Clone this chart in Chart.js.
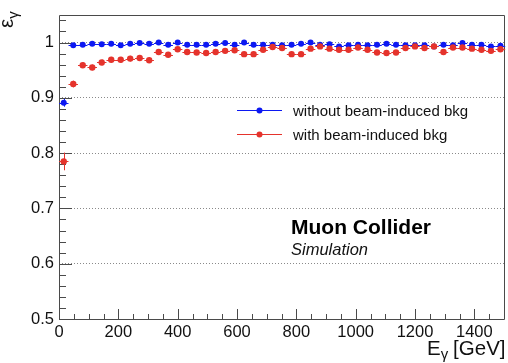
<!DOCTYPE html>
<html>
<head>
<meta charset="utf-8">
<script src="https://cdn.jsdelivr.net/npm/chart.js@4.4.1/dist/chart.umd.min.js"></script>
<style>
  html, body { margin: 0; padding: 0; background: #ffffff; }
  canvas { display: block; }
</style>
</head>
<body>
<canvas id="eff" width="508" height="363"></canvas>
<script>
// Photon energy bin centres [GeV]; each bin is 32 GeV wide
const energyBins = [16, 48, 80, 112, 144, 176, 208, 240, 272, 304,
                    336, 368, 400, 432, 464, 496, 528, 560, 592, 624,
                    656, 688, 720, 752, 784, 816, 848, 880, 912, 944,
                    976, 1008, 1040, 1072, 1104, 1136, 1168, 1200, 1232, 1264,
                    1296, 1328, 1360, 1392, 1424, 1456, 1488];
const binHalfWidth = 16;

// Reconstruction efficiency without beam-induced background
const effNoBkg = [0.891, 0.995, 0.996, 0.998, 0.997, 0.998, 0.995, 0.998, 0.999, 0.998,
                  1.000, 0.996, 1.000, 0.996, 0.996, 0.996, 0.998, 0.999, 0.996, 1.000,
                  0.996, 0.996, 0.996, 0.995, 0.996, 0.998, 1.000, 0.996, 0.997, 0.993,
                  0.995, 0.996, 0.995, 0.996, 0.998, 0.996, 0.995, 0.995, 0.995, 0.993,
                  0.996, 0.995, 0.999, 0.996, 0.996, 0.993, 0.994];
const errNoBkg = [0.007, 0.002, 0.002, 0.002, 0.002, 0.002, 0.002, 0.002, 0.002, 0.002,
                  0.002, 0.002, 0.002, 0.002, 0.002, 0.002, 0.002, 0.002, 0.002, 0.002,
                  0.002, 0.002, 0.002, 0.002, 0.002, 0.002, 0.002, 0.002, 0.002, 0.002,
                  0.002, 0.002, 0.002, 0.002, 0.002, 0.002, 0.002, 0.002, 0.002, 0.002,
                  0.002, 0.002, 0.002, 0.002, 0.002, 0.002, 0.002];

// Reconstruction efficiency with beam-induced background overlaid
const effBkg = [0.785, 0.925, 0.959, 0.955, 0.964, 0.969, 0.969, 0.971, 0.972, 0.968,
                0.983, 0.978, 0.988, 0.983, 0.982, 0.981, 0.983, 0.985, 0.986, 0.979,
                0.979, 0.987, 0.992, 0.990, 0.979, 0.979, 0.989, 0.993, 0.989, 0.987,
                0.987, 0.991, 0.987, 0.982, 0.981, 0.982, 0.990, 0.993, 0.990, 0.993,
                0.983, 0.991, 0.991, 0.989, 0.987, 0.985, 0.988];
const errBkg = [0.016, 0.006, 0.005, 0.005, 0.005, 0.005, 0.005, 0.005, 0.005, 0.005,
                0.004, 0.004, 0.004, 0.004, 0.004, 0.004, 0.004, 0.004, 0.004, 0.004,
                0.004, 0.004, 0.004, 0.004, 0.004, 0.004, 0.004, 0.004, 0.004, 0.004,
                0.004, 0.004, 0.004, 0.004, 0.004, 0.004, 0.004, 0.004, 0.004, 0.004,
                0.004, 0.004, 0.004, 0.004, 0.004, 0.004, 0.004];

// Axis tick labels
const xTickValues = [0, 200, 400, 600, 800, 1000, 1200, 1400];
const yTickValues = [0.5, 0.6, 0.7, 0.8, 0.9, 1.0];

const labelNoBkg = 'without beam-induced bkg';
const labelBkg = 'with beam-induced bkg';

const FONT = "'Liberation Sans', Arial, Helvetica, sans-serif";
const TEXT = '#111111';
const AXIS = '#4a4a4a';
const BLUE = '#0c18f2';
const RED = '#e5332c';

function points(ys) {
  return energyBins.map((e, i) => ({ x: e, y: ys[i] }));
}

// ROOT-style error crosses drawn under each dataset's markers
const errorBars = {
  id: 'errorBars',
  beforeDatasetDraw(chart, args) {
    const ds = chart.data.datasets[args.index];
    const xs = chart.scales.x, ys = chart.scales.y;
    const ctx = chart.ctx;
    ctx.save();
    ctx.strokeStyle = ds.borderColor;
    ctx.lineWidth = 1;
    ds.data.forEach((p, i) => {
      const px = xs.getPixelForValue(p.x);
      const py = ys.getPixelForValue(p.y);
      const xl = xs.getPixelForValue(p.x - binHalfWidth);
      const xr = xs.getPixelForValue(p.x + binHalfWidth);
      const yt = ys.getPixelForValue(p.y + ds.errors[i]);
      const yb = ys.getPixelForValue(p.y - ds.errors[i]);
      ctx.beginPath();
      ctx.moveTo(xl, Math.round(py) + 0.5);
      ctx.lineTo(xr, Math.round(py) + 0.5);
      ctx.moveTo(Math.round(px) + 0.5, yt);
      ctx.lineTo(Math.round(px) + 0.5, yb);
      ctx.stroke();
    });
    ctx.restore();
  }
};

// Frame box with inward major/minor tick marks
const frameTicks = {
  id: 'frameTicks',
  beforeDatasetsDraw(chart) {
    const { ctx, chartArea: a } = chart;
    const xs = chart.scales.x, ys = chart.scales.y;
    ctx.save();
    ctx.strokeStyle = AXIS;
    ctx.lineWidth = 1;
    ctx.beginPath();
    ctx.rect(Math.round(a.left) + 0.5, Math.round(a.top) + 0.5,
             Math.round(a.right - a.left), Math.round(a.bottom - a.top));
    ctx.stroke();
    ctx.beginPath();
    for (let v = 0; v <= 1500; v += 50) {
      const px = Math.round(xs.getPixelForValue(v)) + 0.5;
      const len = (v % 200 === 0) ? 10 : 5;
      ctx.moveTo(px, a.bottom);
      ctx.lineTo(px, a.bottom - len);
    }
    for (let k = 0; k <= 27; k++) {
      const v = 0.5 + k * 0.02;
      const py = Math.round(ys.getPixelForValue(v)) + 0.5;
      const len = (k % 5 === 0) ? 13 : 7;
      ctx.moveTo(a.left, py);
      ctx.lineTo(a.left + len, py);
    }
    ctx.stroke();
    ctx.restore();
  }
};

// Legend, experiment label and axis titles
const annotations = {
  id: 'annotations',
  afterDraw(chart) {
    const ctx = chart.ctx;
    ctx.save();
    // legend entries
    const entries = [
      { label: labelNoBkg, color: BLUE, y: 110 },
      { label: labelBkg, color: RED, y: 134 }
    ];
    entries.forEach(en => {
      ctx.strokeStyle = en.color;
      ctx.lineWidth = 1;
      ctx.beginPath();
      ctx.moveTo(237, en.y + 0.5);
      ctx.lineTo(282, en.y + 0.5);
      ctx.stroke();
      ctx.fillStyle = en.color;
      ctx.beginPath();
      ctx.arc(259.5, en.y + 0.5, 3, 0, Math.PI * 2);
      ctx.fill();
      ctx.fillStyle = TEXT;
      ctx.font = '15px ' + FONT;
      ctx.textAlign = 'left';
      ctx.textBaseline = 'alphabetic';
      ctx.fillText(en.label, 293, en.y + 5.5);
    });

    // experiment label
    ctx.fillStyle = '#000000';
    ctx.font = 'bold 21px ' + FONT;
    ctx.fillText('Muon Collider', 291, 234);
    ctx.font = 'italic 16.5px ' + FONT;
    ctx.fillStyle = TEXT;
    ctx.fillText('Simulation', 291, 255);

    // x-axis title: E_γ [GeV]
    ctx.font = '20.5px ' + FONT;
    ctx.fillText('E', 427, 355);
    const eW = ctx.measureText('E').width;
    ctx.font = '15px ' + FONT;
    ctx.fillText('\u03B3', 427 + eW, 359);
    ctx.font = '20.5px ' + FONT;
    ctx.textAlign = 'right';
    ctx.fillText('[GeV]', 505.5, 355);

    // y-axis title: ε_γ (rotated)
    ctx.translate(13, 28);
    ctx.rotate(-Math.PI / 2);
    ctx.textAlign = 'left';
    ctx.font = '20.5px ' + FONT;
    ctx.fillText('\u03B5', 0, 0);
    const epsW = ctx.measureText('\u03B5').width;
    ctx.font = '15px ' + FONT;
    ctx.fillText('\u03B3', epsW, 5);
    ctx.restore();
  }
};

new Chart(document.getElementById('eff'), {
  type: 'scatter',
  data: {
    datasets: [
      {
        label: labelBkg,
        data: points(effBkg),
        errors: errBkg,
        backgroundColor: RED,
        borderColor: RED,
        pointRadius: 3.2,
        pointHoverRadius: 3.2,
        pointBorderWidth: 0,
        showLine: false,
        order: 0
      },
      {
        label: labelNoBkg,
        data: points(effNoBkg),
        errors: errNoBkg,
        backgroundColor: BLUE,
        borderColor: BLUE,
        pointRadius: 3,
        pointHoverRadius: 3,
        pointBorderWidth: 0,
        showLine: false,
        order: 1
      }
    ]
  },
  options: {
    responsive: false,
    animation: false,
    devicePixelRatio: 1,
    events: [],
    layout: { padding: { top: 11, right: 4, left: 0, bottom: 0 } },
    plugins: { legend: { display: false }, tooltip: { enabled: false } },
    scales: {
      x: {
        type: 'linear',
        min: 0,
        max: 1500,
        afterFit(s) { s.height = 44; },
        afterBuildTicks(s) { s.ticks = xTickValues.map(v => ({ value: v })); },
        grid: { display: false, drawTicks: false },
        border: { display: false },
        ticks: {
          color: TEXT,
          font: { family: FONT, size: 16.5 },
          padding: 4,
          maxRotation: 0,
          autoSkip: false,
          callback: v => String(v)
        }
      },
      y: {
        type: 'linear',
        min: 0.5,
        max: 1.05,
        afterFit(s) { s.width = 59; },
        afterBuildTicks(s) { s.ticks = yTickValues.map(v => ({ value: v })); },
        grid: {
          drawTicks: false,
          lineWidth: 1,
          color: c => (c.tick && c.tick.value > 0.55) ? '#8a8a8a' : 'rgba(0,0,0,0)'
        },
        border: { display: false, dash: [1, 2] },
        ticks: {
          color: TEXT,
          font: { family: FONT, size: 16.5 },
          padding: 5,
          autoSkip: false,
          callback: v => (Math.round(v * 10) / 10 === 1 ? '1' : (Math.round(v * 10) / 10).toFixed(1))
        }
      }
    }
  },
  plugins: [frameTicks, errorBars, annotations]
});
</script>
</body>
</html>
